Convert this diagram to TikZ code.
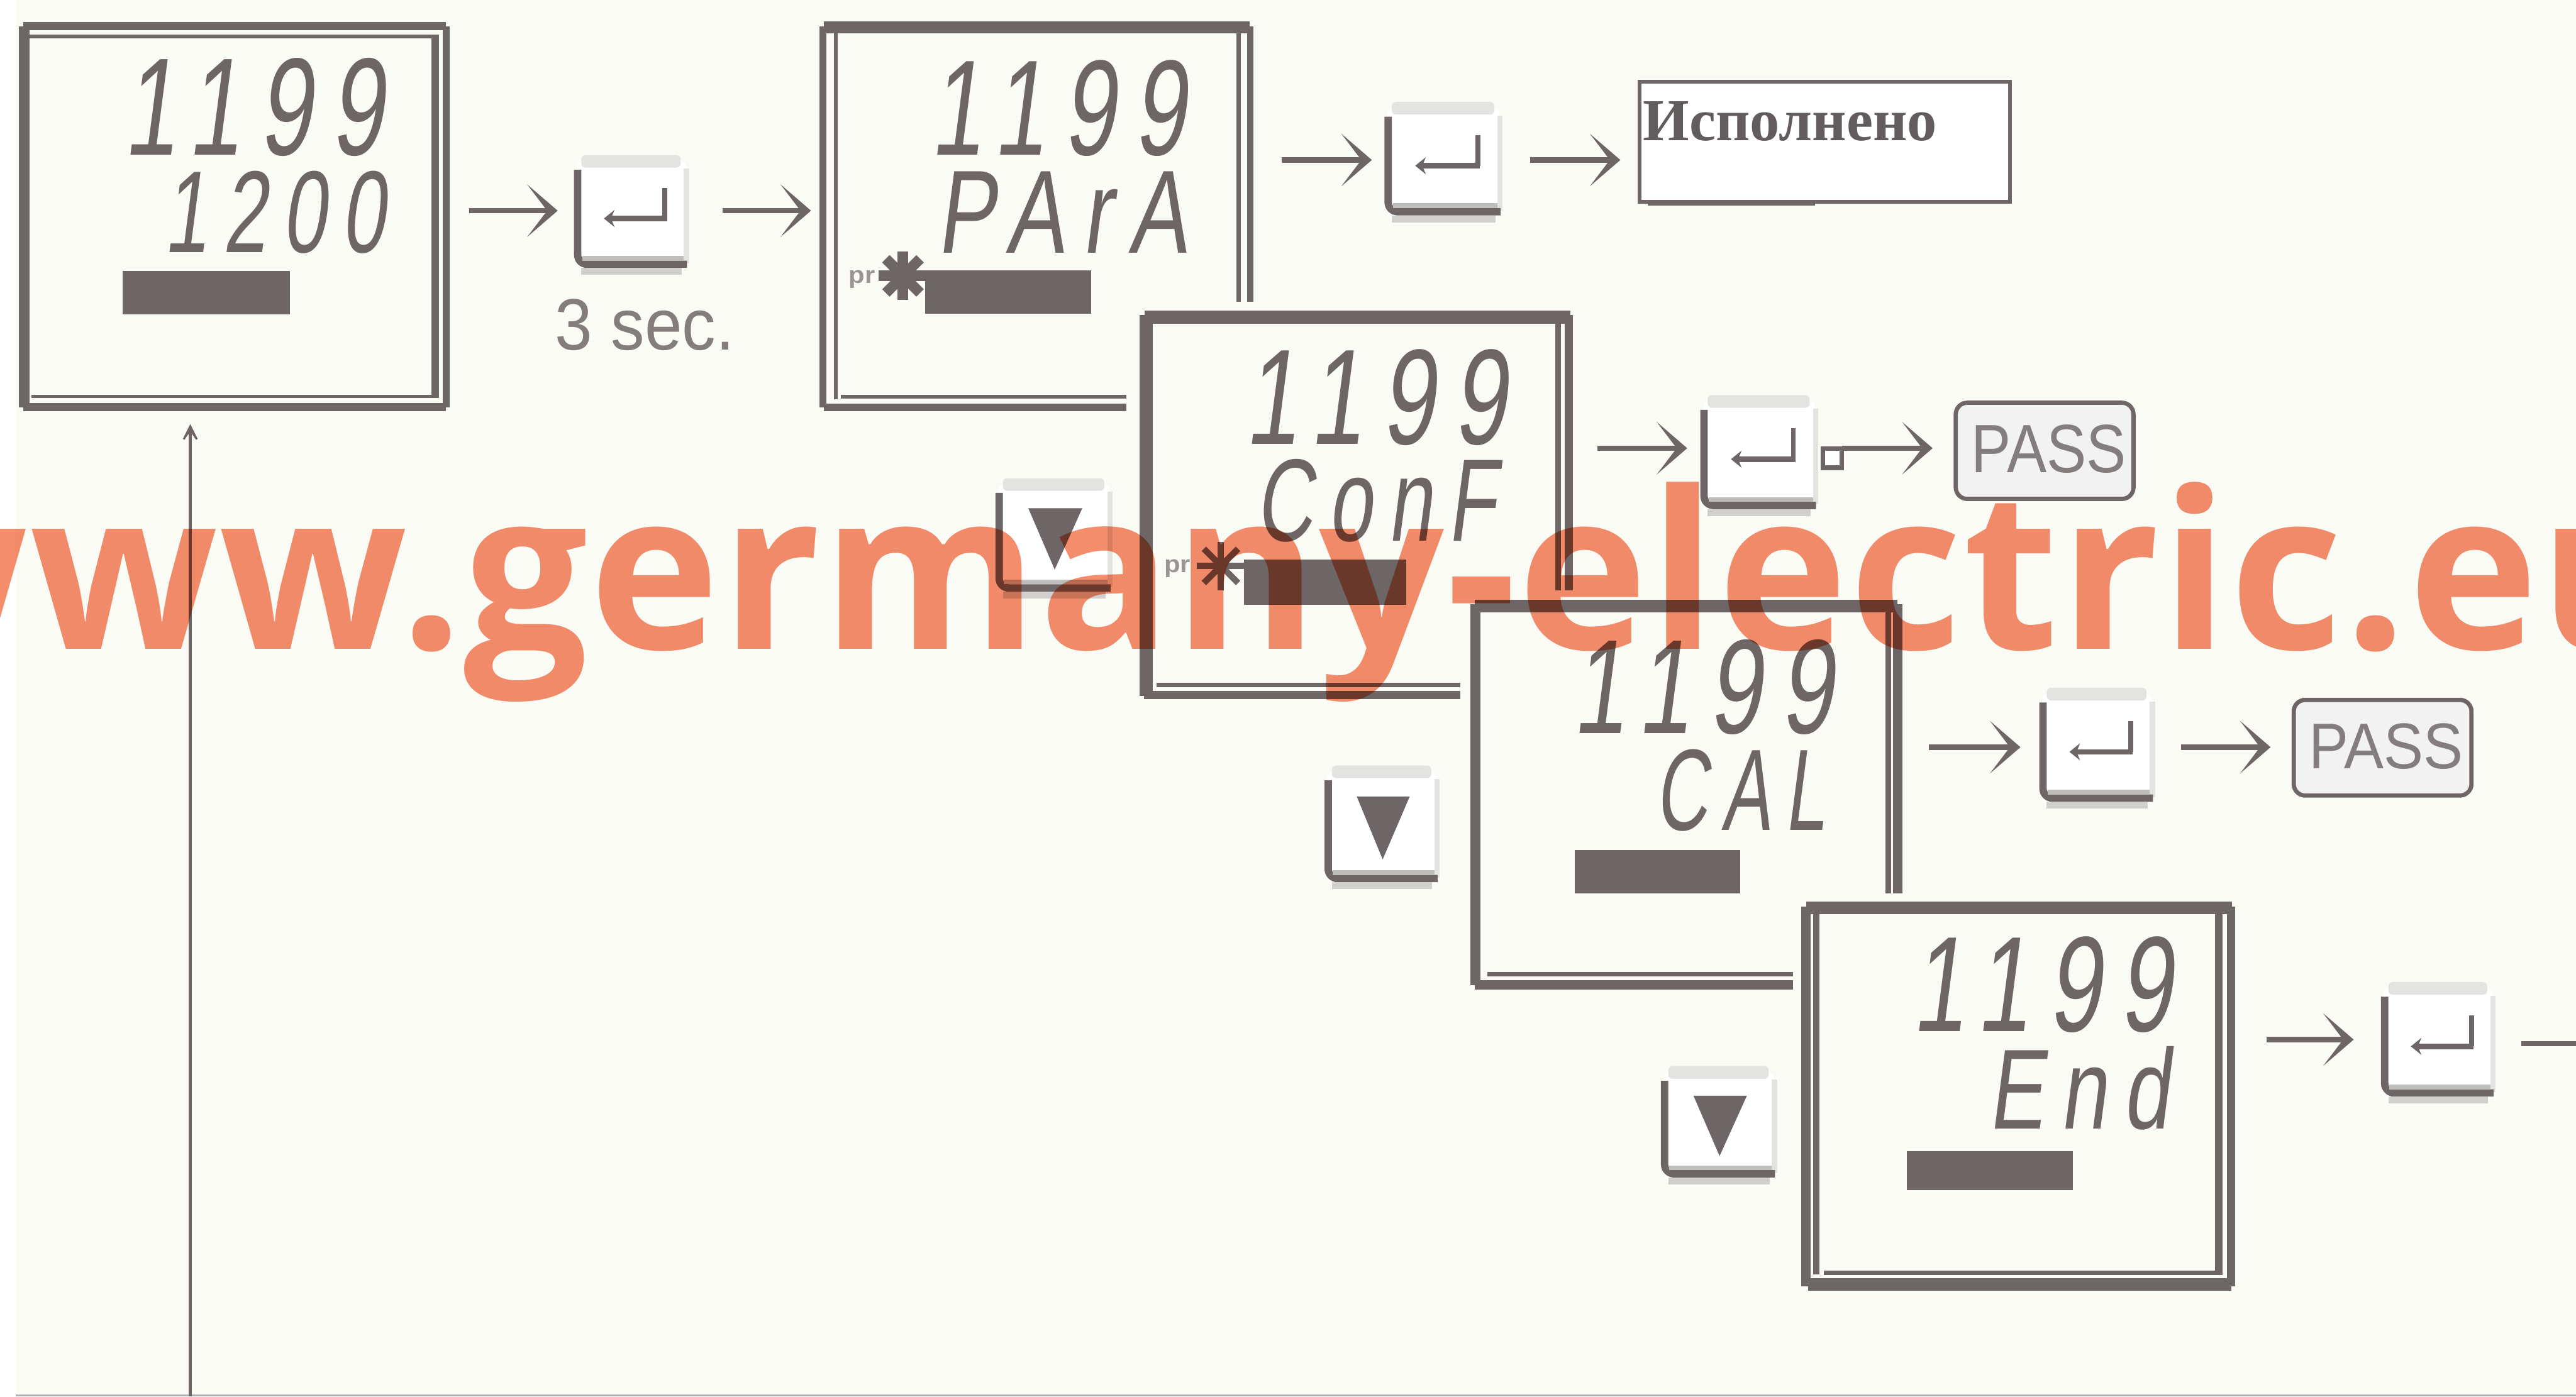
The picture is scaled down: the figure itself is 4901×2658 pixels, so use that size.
\documentclass[tikz,border=0pt]{standalone}
\usepackage{fontspec}
\usepackage{graphicx}
\setmainfont{Liberation Sans}
\newfontfamily\lcdfont[LetterSpace=20]{Liberation Sans}
\newfontfamily\doneface{Liberation Serif}
\newfontfamily\markface[LetterSpace=0.6]{Open Sans}
\usetikzlibrary{arrows.meta,calc}
\definecolor{ink}{HTML}{6E6666}
\definecolor{paper}{HTML}{FBFBF6}
\definecolor{capgrey}{HTML}{E3E3E2}
\definecolor{wmark}{HTML}{F58D6C}
\definecolor{passfill}{HTML}{F2F2F3}
\tikzset{
  hit/.style={inner sep=0pt,outer sep=0pt,draw=none},
  conn/.style={draw=ink,line width=0.1cm,-{Stealth[length=0.58cm,width=1cm,inset=0.38cm,fill=ink]}},
  backconn/.style={draw=ink,line width=0.07cm,-{Stealth[length=0.5cm,width=0.5cm,inset=0.36cm,fill=ink]}},
  plainline/.style={draw=ink,line width=0.1cm},
  passbox/.style={draw=ink,line width=0.08cm,fill=passfill,rounded corners=0.22cm},
  txt/.style={inner sep=0pt,outer sep=0pt,text=ink},
}
% named rectangle area in image pixels
\newcommand\area[5]{\node[hit,minimum width={(#4-(#2))*0.01cm},minimum height={(#5-(#3))*0.01cm}] (#1) at ({(#2+#4)/2},{(#3+#5)/2}) {};}
\newcommand\inkbar[4]{\fill[ink] (#1,#2) rectangle (#3,#4);}
% slanted LCD text: name, x0,y0,x1,y1,text
\newcommand\lcd[6]{%
  \begin{scope}[shift={({(#2+#4)/2},{(#3+#5)/2})},xslant=0.13]
    \pgfmathsetlengthmacro\lw{((#4-#2)-0.13*(#5-#3))*0.01cm}
    \pgfmathsetlengthmacro\lh{(#5-#3)*0.01cm}
    \node[txt,transform shape] (#1) at (0,0) {\resizebox*{\lw}{\lh}{\lcdfont #6}};
  \end{scope}}
% key body: name,x0,y0,x1,y1
\newcommand\keybody[5]{%
  \area{#1}{#2}{#3}{#4}{#5}
  \fill[white,rounded corners=0.1cm] (#2+6,#3+12) rectangle (#4-6,#5-8);
  \fill[capgrey,rounded corners=0.08cm] (#2+14,#3) rectangle (#4-16,#3+24);
  \fill[capgrey] (#4-10,#3+26) rectangle (#4,#5-22);
  \draw[ink,line width=0.14cm,rounded corners=0.18cm] (#2+7,#3+28) -- (#2+7,#5-20) -- (#4-4,#5-20);
  \fill[capgrey!70!ink] (#2+16,#5-36) rectangle (#4-10,#5-27);
  \fill[capgrey!85!ink] (#2+14,#5-13) rectangle (#4-14,#5);
}
\newcommand\enterkey[5]{%
  \keybody{#1}{#2}{#3}{#4}{#5}
  \draw[ink,line width=0.09cm] ({#2+0.79*(#4-#2)},{#3+0.275*(#5-#3)}) -- ({#2+0.79*(#4-#2)},{#3+0.53*(#5-#3)});
  \draw[ink,line width=0.1cm,-{Stealth[length=0.2cm,width=0.32cm]}] ({#2+0.79*(#4-#2)+4},{#3+0.53*(#5-#3)}) -- ({#2+0.26*(#4-#2)},{#3+0.53*(#5-#3)});
}
\newcommand\downkey[5]{%
  \keybody{#1}{#2}{#3}{#4}{#5}
  \fill[ink] ({#2+0.28*(#4-#2)},{#3+0.25*(#5-#3)}) -- ({#2+0.74*(#4-#2)},{#3+0.25*(#5-#3)}) -- ({#2+0.505*(#4-#2)},{#3+0.76*(#5-#3)}) -- cycle;
}
\newcommand\burst[4]{% cx cy r width
  \foreach \a in {0,45,...,315}{\draw[ink,line width=#4*0.01cm] (#1,#2) -- ($(#1,#2)+(\a:#3)$);}
}
\begin{document}
\begin{tikzpicture}[x=0.01cm,y=-0.01cm]
\useasboundingbox (0,0) rectangle (4901,2658);
\fill[white] (0,0) rectangle (4901,2658);
\fill[paper] (30,0) rectangle (4901,2658);
\fill[black!30] (30,2654) rectangle (4901,2658);

% ---- frame 1
\area{f1}{36}{42}{855}{782}
\inkbar{36}{50}{56}{775}
\inkbar{44}{42}{848}{57}
\inkbar{50}{66}{828}{73}
\inkbar{842}{50}{855}{775}
\inkbar{821}{66}{835}{758}
\inkbar{60}{751}{828}{758}
\inkbar{44}{767}{848}{782}
\lcd{f1a}{235}{111}{752}{298}{1199}
\lcd{f1b}{312}{325}{752}{482}{1200}
\inkbar{233}{516}{551}{598}

% ---- frame 2
\area{f2}{1559}{41}{2385}{782}
\inkbar{1559}{50}{1572}{775}
\inkbar{1586}{60}{1594}{760}
\inkbar{1568}{41}{2378}{64}
\inkbar{2373}{50}{2385}{574}
\inkbar{2352}{64}{2361}{574}
\inkbar{1600}{751}{2143}{759}
\inkbar{1568}{768}{2143}{782}
\lcd{f2a}{1770}{115}{2278}{298}{1199}
\lcd{f2b}{1782}{327}{2278}{482}{PArA}
\inkbar{1760}{515}{2076}{597}
\burst{1718}{525}{46}{20}
\node[txt,text=ink!70,font=\bfseries] (f2p) at (1640,531) {\resizebox*{0.5cm}{0.34cm}{pr}};

% ---- frame 3
\area{f3}{2168}{591}{2995}{1330}
\inkbar{2168}{600}{2193}{1325}
\inkbar{2178}{591}{2988}{616}
\inkbar{2977}{600}{2992}{1124}
\inkbar{2959}{616}{2970}{1124}
\inkbar{2200}{1300}{2778}{1308}
\inkbar{2176}{1315}{2778}{1330}
\lcd{f3a}{2368}{665}{2888}{848}{1199}
\lcd{f3b}{2388}{874}{2866}{1032}{ConF}
\inkbar{2367}{1065}{2675}{1151}
\burst{2323}{1077}{46}{12}
\node[txt,text=ink!70,font=\bfseries] (f3p) at (2240,1082) {\resizebox*{0.5cm}{0.34cm}{pr}};

% ---- frame 4
\area{f4}{2798}{1141}{3619}{1883}
\inkbar{2798}{1150}{2817}{1875}
\inkbar{2806}{1141}{3610}{1166}
\inkbar{3601}{1150}{3619}{1700}
\inkbar{3587}{1166}{3598}{1700}
\inkbar{2830}{1850}{3411}{1858}
\inkbar{2806}{1865}{3411}{1883}
\lcd{f4a}{2992}{1217}{3510}{1398}{1199}
\lcd{f4b}{3148}{1426}{3492}{1582}{CAL}
\inkbar{2996}{1618}{3311}{1700}

% ---- frame 5
\area{f5}{3427}{1716}{4252}{2457}
\inkbar{3427}{1725}{3445}{2448}
\inkbar{3450}{1740}{3462}{2425}
\inkbar{3436}{1716}{4246}{1740}
\inkbar{4237}{1725}{4252}{2448}
\inkbar{4214}{1740}{4228}{2426}
\inkbar{3470}{2418}{4214}{2426}
\inkbar{3440}{2433}{4245}{2457}
\lcd{f5a}{3638}{1782}{4155}{1965}{1199}
\lcd{f5b}{3782}{1991}{4147}{2150}{End}
\inkbar{3628}{2191}{3944}{2265}

% ---- keys
\enterkey{k1}{1092}{295}{1311}{523}
\enterkey{k2}{2634}{194}{2859}{423}
\enterkey{k3}{3235}{752}{3459}{982}
\enterkey{k4}{3880}{1309}{4100}{1539}
\enterkey{k5}{4530}{1869}{4748}{2100}
\downkey{d1}{1894}{910}{2117}{1139}
\downkey{d2}{2520}{1457}{2739}{1692}
\downkey{d3}{3160}{2029}{3381}{2254}

\node[txt,text=ink!85] (sec) at (1227,618) {\resizebox*{3.42cm}{0.98cm}{3 sec.}};

% ---- result boxes
\node[hit,minimum width=7.04cm,minimum height=2.29cm,draw=ink,line width=0.07cm,fill=white] (done) at (3472,270) {};
\fill[ink] (3135,385) rectangle (3453,391);
\node[txt,anchor=base west,font=\doneface\bfseries\fontsize{32.2}{36}\selectfont,text=ink!90!black] (donet) at (3126,268) {Исполнено};
\node[hit,passbox,minimum width=3.38cm,minimum height=1.83cm] (p1) at (3890,858) {};
\node[txt,text=ink!85] (p1t) at (3898,854) {\resizebox*{2.94cm}{0.92cm}{PASS}};
\node[hit,passbox,minimum width=3.38cm,minimum height=1.82cm] (p2) at (4533,1423) {};
\node[txt,text=ink!85] (p2t) at (4540,1421) {\resizebox*{2.93cm}{0.87cm}{PASS}};

% ---- connectors
\draw[conn] ($(f1.east |- k1.west)+(38,-8)$) -- ($(k1.west)+(-31,-8)$);
\draw[conn] ($(k1.east)+(64,-8)$) -- ($(f2.west |- k1.west)+(-16,-8)$);
\draw[conn] ($(f2.east |- k2.west)+(53,-4)$) -- ($(k2.west)+(-24,-4)$);
\draw[conn] ($(k2.east)+(52,-4)$) -- ($(done.west |- k2.west)+(-37,-4)$);
\draw[conn] ($(f3.east |- k3.west)+(44,-14)$) -- ($(k3.west)+(-25,-14)$);
\node[hit,draw=ink,line width=0.09cm,fill=white,minimum width=0.36cm,minimum height=0.36cm] (sq) at (3486,872) {};
\coordinate (ptail) at (3505,853);
\draw[conn] (ptail) -- ($(p1.west |- ptail)+(-44,0)$);
\draw[conn] ($(f4.east |- k4.west)+(51,-2)$) -- ($(k4.west)+(-36,-2)$);
\draw[conn] ($(k4.east)+(49,-2)$) -- ($(p2.west |- k4.west)+(-44,-2)$);
\draw[conn] ($(f5.east |- k5.west)+(60,-6)$) -- ($(k5.west)+(-52,-6)$);
\coordinate (exitpt) at (4901,1986);
\draw[plainline] ($(k5.east |- exitpt)+(49,0)$) -- (exitpt);
\coordinate (backfoot) at (362,2658);
\draw[backconn] (backfoot) -- ($(backfoot |- f1.south)+(0,25)$);

% ---- watermark
\begin{scope}[blend mode=multiply]
\node[anchor=base west,inner sep=0pt,outer sep=0pt,text=wmark,font=\markface\bfseries\fontsize{119}{119}\selectfont] (wm) at (-304,1236) {www.germany-electric.eu};
\end{scope}
\end{tikzpicture}
\end{document}
